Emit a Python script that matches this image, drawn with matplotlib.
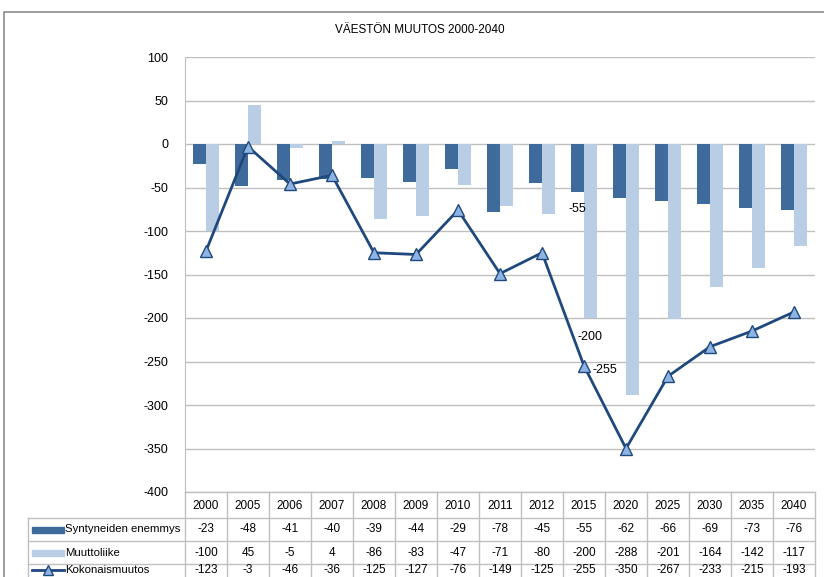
import numpy as np
import matplotlib.pyplot as plt
from matplotlib.lines import Line2D
from matplotlib.patches import Rectangle

plt.rcParams['font.family'] = ['Liberation Sans', 'DejaVu Sans']
plt.rcParams['axes.unicode_minus'] = False

# --- data ---
years = ['2000', '2005', '2006', '2007', '2008', '2009', '2010', '2011',
         '2012', '2015', '2020', '2025', '2030', '2035', '2040']
syntyneet = [-23, -48, -41, -40, -39, -44, -29, -78, -45, -55, -62, -66, -69, -73, -76]
muutto = [-100, 45, -5, 4, -86, -83, -47, -71, -80, -200, -288, -201, -164, -142, -117]
kokonais = [-123, -3, -46, -36, -125, -127, -76, -149, -125, -255, -350, -267, -233, -215, -193]
series_names = ['Syntyneiden enemmys', 'Muuttoliike', 'Kokonaismuutos']

dark = '#3F6A9C'
light = '#B9CDE5'
line_c = '#1F497D'
marker_c = '#8EB4E3'
grid_c = '#BFBFBF'
fs = 8.5

W, H = 824, 577
fig = plt.figure(figsize=(W / 100, H / 100), dpi=100)

def fx(px):
    return px / W

def fy(py):
    return 1 - py / H

# outer chart frame
fig.patches.append(Rectangle((fx(4), fy(600)), fx(840) - fx(4), fy(12) - fy(600),
                             transform=fig.transFigure, fill=False,
                             edgecolor='#8C8C8C', linewidth=1.2))

fig.text(0.5 + 8 / W, fy(30), 'VÄESTÖN MUUTOS 2000-2040', ha='center', va='center',
         fontsize=fs)

# --- main plot ---
left, right, top, bottom = 185, 815, 57, 492
ax = fig.add_axes([fx(left), fy(bottom), fx(right) - fx(left), fy(top) - fy(bottom)])
x = np.arange(len(years))
bw = 0.3
ax.bar(x - bw / 2, syntyneet, bw, color=dark, zorder=2)
ax.bar(x + bw / 2, muutto, bw, color=light, zorder=2)
ax.plot(x, kokonais, color=line_c, linewidth=2, marker='^', markersize=8.5,
        markerfacecolor=marker_c, markeredgecolor=line_c, markeredgewidth=1, zorder=3)

ax.set_xlim(-0.5, len(years) - 0.5)
ax.set_ylim(-400, 100)
ax.set_yticks(np.arange(-400, 101, 50))
ax.tick_params(axis='y', length=0, labelsize=fs + 0.5, pad=12)
ax.set_xticks([])
ax.grid(axis='y', color=grid_c, linewidth=1)
ax.set_axisbelow(True)
for s in ['top', 'right', 'bottom']:
    ax.spines[s].set_visible(False)
ax.spines['left'].set_color(grid_c)

# data labels for 2015
i = years.index('2015')
ax.annotate(str(syntyneet[i]), (x[i] - bw / 2, syntyneet[i]), xytext=(0, -8),
            textcoords='offset points', ha='center', va='top', fontsize=fs + 0.5)
ax.annotate(str(muutto[i]), (x[i] + bw / 2, muutto[i]), xytext=(0, -9),
            textcoords='offset points', ha='center', va='top', fontsize=fs + 0.5)
ax.annotate(str(kokonais[i]), (x[i], kokonais[i]), xytext=(6, -3),
            textcoords='offset points', ha='left', va='center', fontsize=fs + 0.5)

# --- data table ---
tab = fig.add_axes([0, 0, 1, 1], facecolor='none')
tab.set_xlim(0, W)
tab.set_ylim(H, 0)
tab.axis('off')
colw = (right - left) / len(years)
rows_y = [bottom, 518, 541, 564, 590]
lw = 1
tab.plot([left, right], [rows_y[0], rows_y[0]], color=grid_c, lw=lw)
for yy in rows_y[1:4]:
    tab.plot([28, right], [yy, yy], color=grid_c, lw=lw)
for k in range(len(years) + 1):
    xx = left + k * colw
    tab.plot([xx, xx], [rows_y[0], H + 5], color=grid_c, lw=lw)
tab.plot([28, 28], [rows_y[1], H + 5], color=grid_c, lw=lw)

row_mid = [(rows_y[1] + rows_y[2]) / 2, (rows_y[2] + rows_y[3]) / 2, 570]
for k, yr in enumerate(years):
    cx = left + (k + 0.5) * colw
    tab.text(cx, (rows_y[0] + rows_y[1]) / 2 + 1, yr, ha='center', va='center', fontsize=fs)
    for r, vals in enumerate([syntyneet, muutto, kokonais]):
        tab.text(cx, row_mid[r], str(vals[k]), ha='center', va='center', fontsize=fs)

# row labels with legend keys
for r, name in enumerate(series_names):
    ym = row_mid[r]
    if r == 0:
        tab.add_patch(Rectangle((32, ym - 3), 32, 6, color=dark))
    elif r == 1:
        tab.add_patch(Rectangle((32, ym - 3), 32, 6, color=light))
    else:
        tab.add_line(Line2D([32, 64], [ym, ym], color=line_c, lw=2))
        tab.plot([48], [ym], marker='^', markersize=7, markerfacecolor=marker_c,
                 markeredgecolor=line_c, markeredgewidth=1)
    tab.text(65, ym, name, ha='left', va='center', fontsize=8.2)

fig.savefig('out.png', dpi=100)
